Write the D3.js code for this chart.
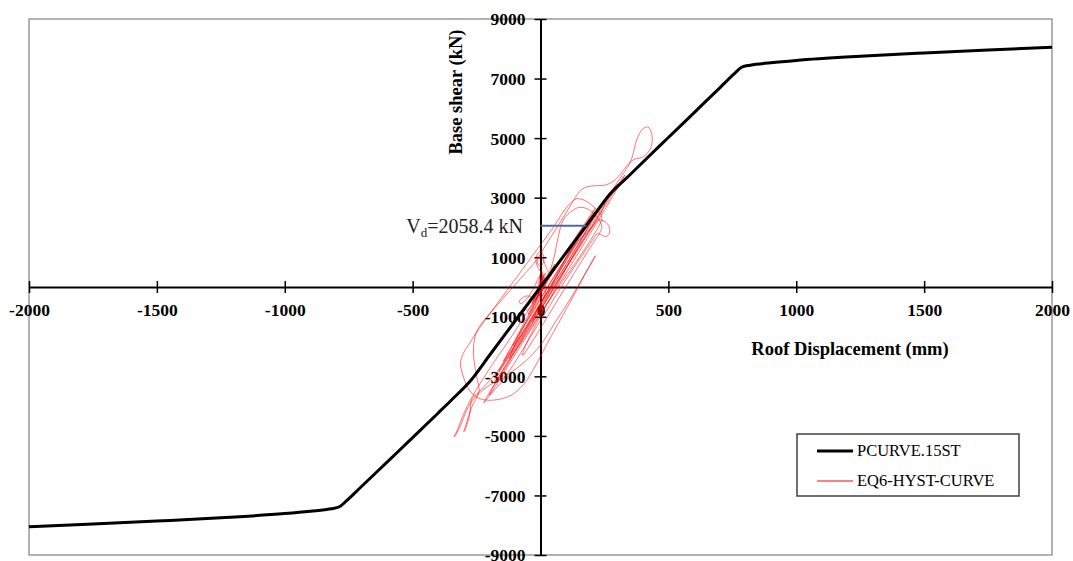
<!DOCTYPE html>
<html>
<head>
<meta charset="utf-8">
<script src="https://cdn.jsdelivr.net/npm/d3@7"></script>
<style>
  body { margin: 0; background: #fff; }
  svg { display: block; }
</style>
</head>
<body>
<svg id="chart" width="1073" height="561"></svg>
<script>
// ---- axis ticks ----
const xTicks = [-2000, -1500, -1000, -500, 0, 500, 1000, 1500, 2000];
const yTicks = [-9000, -7000, -5000, -3000, -1000, 1000, 3000, 5000, 7000, 9000];

// ---- series names ----
const seriesNames = ["PCURVE.15ST", "EQ6-HYST-CURVE"];

// ---- pushover curve (roof displacement mm, base shear kN) ----
const pushoverDisp = [-2000, -1750, -1500, -1250, -1000, -900, -820, -786, -760, -700, -600, -500, -400, -350, -272, -200, -100, 0,
  100, 200, 272, 350, 400, 500, 600, 700, 760, 786, 820, 900, 1000, 1250, 1500, 1750, 2000];
const pushoverShear = [-8050, -7960, -7860, -7750, -7610, -7530, -7450, -7380, -7190, -6700, -5880, -5060, -4230, -3810, -3130, -2300, -1150, 0,
  1150, 2300, 3120, 3770, 4190, 5020, 5850, 6680, 7180, 7380, 7450, 7530, 7610, 7750, 7860, 7960, 8050];

// ---- design base shear ----
const designShear = 2058.4;

// ---- EQ6 hysteresis response [roof displacement mm, base shear kN] ----
const hysteresis = [
  // early small cycles near the origin
  [0,0],[4,140],[9,280],[5,200],[-3,-60],[-9,-230],[-5,-140],[5,140],[12,380],[8,300],[-2,30],[-12,-300],[-18,-440],[-11,-280],
  [2,60],[9,400],[4,560],[-2,400],[-7,130],[-14,-190],[-24,-460],[-17,-360],[-1,-60],[13,250],[20,470],[12,370],[-4,50],
  [-20,-320],[-34,-560],[-27,-430],[-9,-150],[5,180],[0,380],[-8,300],
  [-20,80],[-40,-240],[-62,-470],[-78,-560],[-83,-480],[-72,-370],[-52,-300],[-37,-340],[-46,-520],[-60,-700],[-53,-790],
  [-38,-650],[-20,-420],[0,-120],[20,210],[40,520],[56,770],[48,650],[30,330],[10,10],[-15,-400],[-35,-780],[-48,-920],
  [-40,-770],[-20,-470],[5,-90],
  [15,250],[5,450],[-10,650],[-18,900],[-12,1100],[0,1200],[12,1050],[10,800],[-2,700],[-12,820],[-5,1000],[8,950],
  [20,700],[30,500],[25,300],[10,150],[2,-100],[-6,-300],[4,-150],[14,120],[6,300],[-4,150],[0,0],
  // growing cycles
  [30,300],[60,650],[100,1150],[135,1600],[155,1820],[145,1640],[115,1180],[75,580],[35,-30],[-5,-640],[-45,-1230],
  [-85,-1740],[-108,-1960],[-95,-1720],[-62,-1170],[-22,-560],[28,200],[78,860],[128,1500],[172,2080],[203,2430],
  [214,2530],[200,2260],[162,1660],[112,930],[62,210],[12,-490],[-38,-1190],[-88,-1890],[-138,-2530],[-164,-2840],
  [-150,-2610],[-112,-2010],[-62,-1260],[-12,-560],[38,160],[94,900],[150,1560],[200,1990],[226,2250],[252,2193],
  [268,2025],[269,1803],[256,1690],[239,1746],[224,1790],[190,1400],[142,800],[92,150],[42,-540],[-8,-1240],
  [-58,-1940],[-108,-2640],[-158,-3240],[-198,-3640],[-222,-3890],[-210,-3700],[-172,-3150],[-122,-2460],[-62,-1610],
  [-2,-790],[58,60],[118,900],[178,1740],[232,2520],[282,3180],[318,3620],[330,3760],[315,3520],[276,2950],[226,2240],
  [170,1450],[112,640],[52,-200],[-10,-1050],[-72,-1900],[-132,-2720],[-180,-3380],[-200,-3640],[-190,-3440],
  [-150,-2820],[-96,-2040],[-38,-1200],[22,-360],[70,500],[120,1300],[170,2000],[190,2200],[175,1950],[130,1300],
  [80,600],[30,-100],[-20,-800],[-70,-1500],[-120,-2200],[-145,-2500],[-130,-2250],[-85,-1600],[-35,-900],[15,-200],
  [65,500],[115,1200],[165,1850],[210,2400],[240,2750],[255,2900],[245,2650],[205,2050],[150,1300],[95,550],[45,-150],
  [-5,-850],[-55,-1550],[-105,-2250],[-150,-2900],[-180,-3250],[-170,-3000],[-130,-2400],[-80,-1700],[-30,-1000],
  [20,-300],[84,520],[144,1380],[200,2160],[248,2820],[286,3320],
  // peak positive excursion
  [318,3740],[340,4020],[357,4322],[376,4936],[400,5310],[420,5370],[434,5180],[436,4840],[423,4550],[398,4360],
  [365,4280],[336,4050],[305,3720],[280,3520],[250,3420],[215,3400],[185,3370],[162,3280],[142,3080],[115,2700],
  [70,2080],[20,1400],[-15,906],[-60,460],[-106,10],[-152,-440],[-197,-883],[-240,-1400],[-278,-1900],[-300,-2200],
  [-308,-2360],[-313,-2580],[-304,-2950],[-284,-3380],[-262,-3620],[-230,-3770],[-185,-3800],[-146,-3740],[-113,-3627],
  [-80,-3403],[-54,-3134],[-20,-2650],[20,-2000],[65,-1300],[110,-600],[160,200],[200,850],[215,1050],[205,880],
  // peak negative excursions
  [170,380],[120,-350],[60,-1150],[0,-1950],[-60,-2500],[-130,-2950],[-200,-3300],[-250,-3650],[-282,-4019],
  [-315,-4691],[-334,-5000],[-338,-5030],[-326,-4820],[-300,-4250],[-268,-3700],[-230,-3150],[-180,-2500],[-120,-1750],
  [-60,-950],[0,-150],[60,650],[120,1450],[175,2150],[210,2600],[215,2650],[195,2350],[150,1650],[95,820],[40,0],
  [-20,-850],[-80,-1700],[-140,-2500],[-200,-3150],[-250,-3600],[-270,-3800],[-276,-4241],[-295,-4802],[-300,-4860],
  [-292,-4650],[-270,-4050],[-240,-3500],[-250,-3000],[-262,-2200],[-250,-1500],[-190,-800],[-130,-100],[-70,600],
  [-10,1300],[50,2000],[95,2600],[125,2880],[140,2960],[160,2950],[190,2820],[215,2640],[233,2478],[240,2300],
  [225,2000],[190,1500],[140,850],[85,180],[30,-500],[-20,-1150],[-75,-1850],[-120,-2400],
  // decaying cycles
  [-90,-1750],[-40,-900],[10,-100],[50,900],[70,1700],[89,2250],[128,2586],[154,2676],[187,2609],[220,2360],[240,2000],
  [215,1600],[170,1000],[120,300],[70,-400],[20,-1100],[-30,-1800],[-70,-2300],[-60,-2000],[-20,-1300],[30,-500],
  [80,300],[130,1100],[180,1900],[225,2600],[265,3100],[292,3380],[300,3440],[290,3250],[250,2700],[195,1950],
  [140,1200],[85,450],[35,-250],[-10,-900],[-30,-1150],[-15,-800],[10,-400],[20,-150],[10,0],[0,100],[-5,0],[3,-50],[0,0]
];

// ---- layout ----
const svg = d3.select("#chart");
const serif = "'Liberation Serif', 'Times New Roman', serif";

const x = d3.scaleLinear().domain([-2000, 2000]).range([29, 1052]);
const y = d3.scaleLinear().domain([-9000, 9000]).range([555, 19]);

// plot-area frame
svg.append("rect")
  .attr("x", x(-2000)).attr("y", y(9000))
  .attr("width", x(2000) - x(-2000)).attr("height", y(-9000) - y(9000))
  .attr("fill", "none").attr("stroke", "#808080").attr("stroke-width", 1.2);

// axes crossing at the origin
const fmt = d => String(d);
const gx = svg.append("g")
  .attr("transform", `translate(0,${y(0)})`)
  .call(d3.axisBottom(x).tickValues(xTicks).tickSizeOuter(0).tickFormat(fmt));
gx.select(".domain").attr("stroke", "#000").attr("stroke-width", 2);
gx.selectAll(".tick line").attr("y1", -6).attr("y2", 6).attr("stroke", "#000").attr("stroke-width", 1.5);
gx.selectAll(".tick text")
  .attr("y", 29).attr("dy", null)
  .attr("font-family", serif).attr("font-weight", "bold").attr("font-size", 17.5).attr("fill", "#000");

const gy = svg.append("g")
  .attr("transform", `translate(${x(0)},0)`)
  .call(d3.axisLeft(y).tickValues(yTicks).tickSizeOuter(0).tickFormat(fmt));
gy.select(".domain").attr("stroke", "#000").attr("stroke-width", 2);
gy.selectAll(".tick line").attr("x1", -6).attr("x2", 6).attr("stroke", "#000").attr("stroke-width", 1.5);
gy.selectAll(".tick text")
  .attr("x", -15).attr("dy", "0.34em")
  .attr("font-family", serif).attr("font-weight", "bold").attr("font-size", 17.5).attr("fill", "#000");

// axis titles
svg.append("text")
  .attr("x", 850).attr("y", 355)
  .attr("text-anchor", "middle")
  .attr("font-family", serif).attr("font-weight", "bold").attr("font-size", 18.5)
  .text("Roof Displacement (mm)");

svg.append("text")
  .attr("transform", "translate(462,92) rotate(-90)")
  .attr("text-anchor", "middle")
  .attr("font-family", serif).attr("font-weight", "bold").attr("font-size", 18.5)
  .text("Base shear (kN)");

// hysteresis response
svg.append("path")
  .datum(hysteresis)
  .attr("d", d3.line().x(d => x(d[0])).y(d => y(d[1])).curve(d3.curveCatmullRom.alpha(0.5)))
  .attr("fill", "none").attr("stroke", "#ff0000").attr("stroke-width", 0.65)
  .attr("stroke-opacity", 0.85);

// pushover curve
const pushover = pushoverDisp.map((d, i) => [d, pushoverShear[i]]);
svg.append("path")
  .datum(pushover)
  .attr("d", d3.line().x(d => x(d[0])).y(d => y(d[1])).curve(d3.curveMonotoneX))
  .attr("fill", "none").attr("stroke", "#000").attr("stroke-width", 3)
  .attr("stroke-linejoin", "round");

// design shear marker: from the vertical axis to the pushover curve
let dAtVd = 0;
for (let i = 1; i < pushover.length; i++) {
  const [d0, v0] = pushover[i - 1], [d1, v1] = pushover[i];
  if (v0 <= designShear && v1 >= designShear) {
    dAtVd = d0 + (designShear - v0) / (v1 - v0) * (d1 - d0);
    break;
  }
}
svg.append("line")
  .attr("x1", x(0)).attr("x2", x(dAtVd))
  .attr("y1", y(designShear)).attr("y2", y(designShear))
  .attr("stroke", "#4a6b9a").attr("stroke-width", 2);

const vd = svg.append("text")
  .attr("x", 523).attr("y", y(designShear) + 7)
  .attr("text-anchor", "end")
  .attr("font-family", serif).attr("font-size", 20).attr("fill", "#222");
vd.append("tspan").text("V");
vd.append("tspan").attr("dy", 4).attr("font-size", 13).text("d");
vd.append("tspan").attr("dy", -4).text(`=${designShear} kN`);

// legend
const legend = svg.append("g");
legend.append("rect")
  .attr("x", 797).attr("y", 434).attr("width", 222).attr("height", 62)
  .attr("fill", "#fff").attr("stroke", "#404040").attr("stroke-width", 1.5);
const legendStyles = [{ stroke: "#000", width: 3 }, { stroke: "#ff0000", width: 1 }];
seriesNames.forEach((name, i) => {
  const ly = 451 + i * 30;
  legend.append("line")
    .attr("x1", 817).attr("x2", 853).attr("y1", ly).attr("y2", ly)
    .attr("stroke", legendStyles[i].stroke).attr("stroke-width", legendStyles[i].width);
  legend.append("text")
    .attr("x", 857).attr("y", ly + 5)
    .attr("font-family", serif).attr("font-size", 16.5).attr("fill", "#000")
    .text(name);
});
</script>
</body>
</html>
